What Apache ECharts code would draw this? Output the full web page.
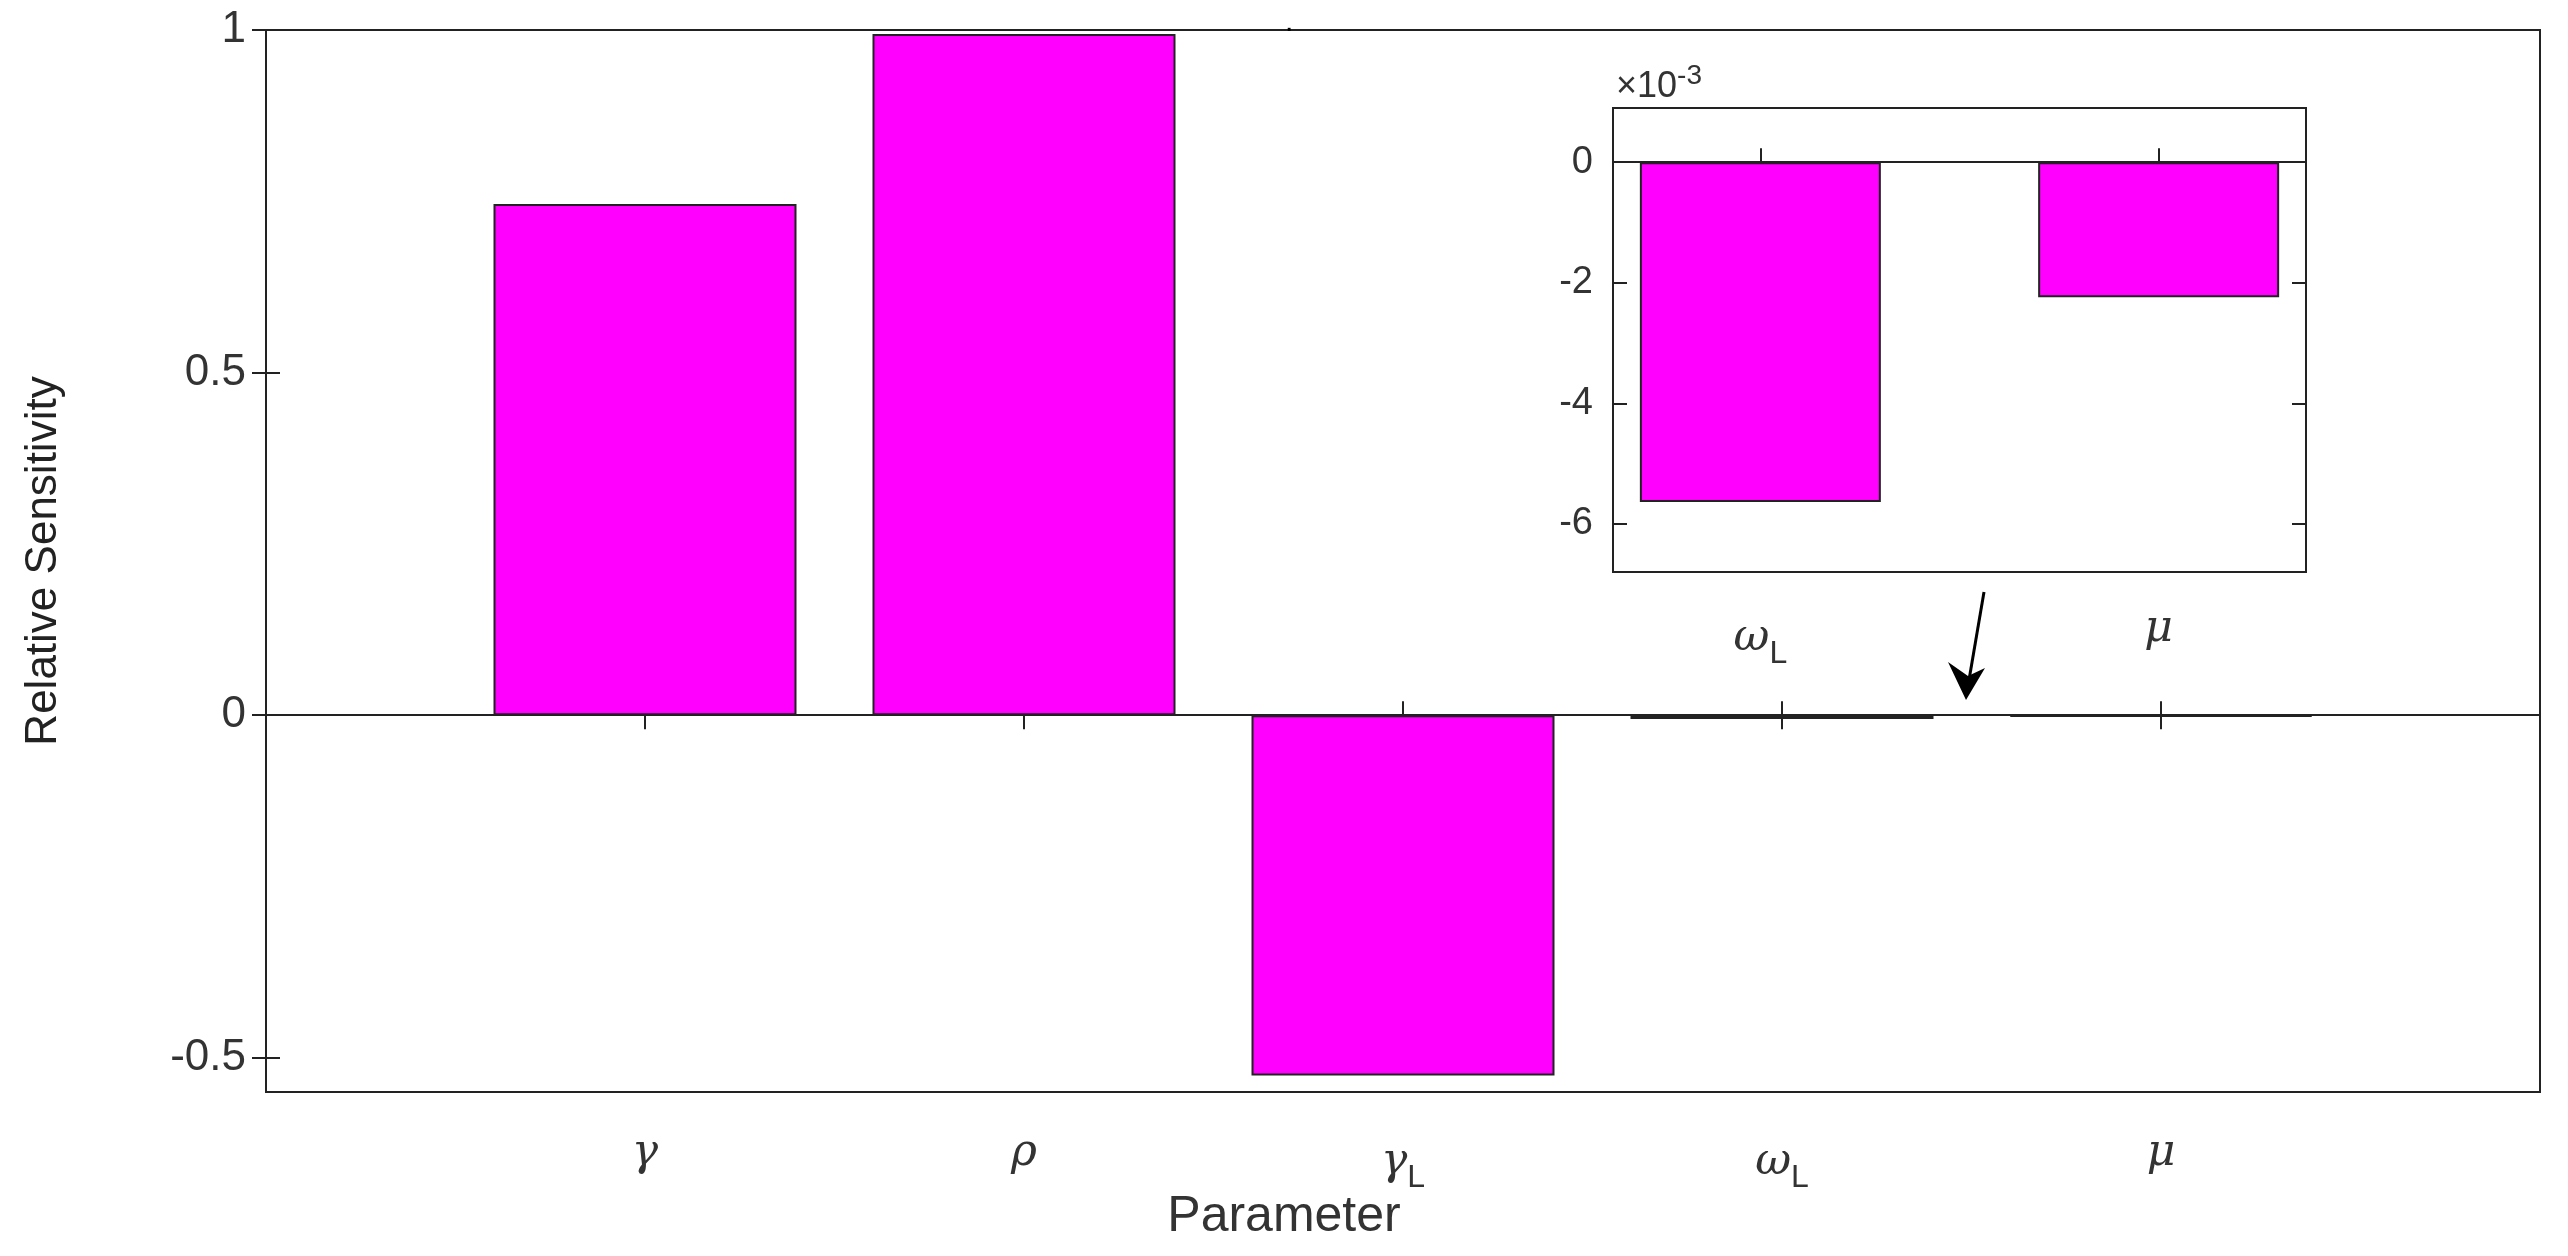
<!DOCTYPE html>
<html>
<head>
<meta charset="utf-8">
<script src="https://cdn.jsdelivr.net/npm/echarts@6/dist/echarts.min.js"></script>
<style>html,body{margin:0;padding:0;background:#fff}#main{width:2568px;height:1256px}</style>
</head>
<body>
<div id="main"></div>
<script>
// main chart data
const params = ['gamma', 'rho', 'gammaL', 'omegaL', 'mu'];
const paramPos = [1, 2, 3, 4, 5];
const sensitivity = [0.746, 0.994, -0.526, -0.0056, -0.0022];
const mainTicks = [-0.5, 0, 0.5, 1];
// inset (x 10^-3)
const insetParams = ['omegaL', 'mu'];
const insetPos = [1, 2];
const insetValues = [-5.64, -2.24];
const insetTicks = [-6, -4, -2, 0];

const FONT = 'Liberation Sans';
const NARROW = '"Liberation Sans Narrow", "Liberation Sans"';
const MAG = '#ff00ff';

const rich = {
    g: {fontFamily: 'DejaVu Serif', fontStyle: 'italic', fontSize: 44, color: '#333'},
    s: {fontFamily: FONT, fontSize: 32, color: '#333', padding: [30, 0, 0, 0]}
};
const sym = {gamma: 'γ', rho: 'ρ', gammaL: 'γ', omegaL: 'ω', mu: 'μ'};
function paramLabel(name) {
    if (name.endsWith('L')) return '{g|' + sym[name] + '}{s|L}';
    return '{g|' + sym[name] + '}';
}

const chart = echarts.init(document.getElementById('main'));
const mainGrid = {left: 266, width: 2274, top: 30, height: 1062, show: true, borderColor: '#222', borderWidth: 2, backgroundColor: 'transparent'};
const insetGrid = {left: 1613, width: 693, top: 108, height: 464, show: true, borderColor: '#222', borderWidth: 2, backgroundColor: '#fff'};

function tickAxis(grid, pos, ticks, extra) {
    return Object.assign({
        gridIndex: grid, type: 'value', position: pos,
        axisLine: {show: false}, splitLine: {show: false},
        axisTick: {show: true, inside: true, length: 14, customValues: ticks, lineStyle: {color: '#222', width: 2}},
        axisLabel: {show: false}
    }, extra);
}

chart.setOption({
    animation: false,
    grid: [mainGrid, insetGrid],
    xAxis: [
        tickAxis(0, 'bottom', paramPos, {min: 0, max: 6, axisLabel: {show: true, customValues: paramPos, margin: 40, rich: rich,
            formatter: v => paramLabel(params[paramPos.indexOf(v)])}}),
        tickAxis(0, 'top', paramPos, {min: 0, max: 6}),
        tickAxis(1, 'bottom', insetPos, {min: 0.63, max: 2.37, axisLabel: {show: true, customValues: insetPos, margin: 36, rich: rich,
            formatter: v => paramLabel(insetParams[insetPos.indexOf(v)])}}),
        tickAxis(1, 'top', insetPos, {min: 0.63, max: 2.37})
    ],
    yAxis: [
        tickAxis(0, 'left', mainTicks, {min: -0.55, max: 1, name: 'Relative Sensitivity', nameLocation: 'middle', nameGap: 200,
            nameTextStyle: {fontFamily: NARROW, fontSize: 44, color: '#222'},
            axisLabel: {show: true, customValues: mainTicks, margin: 20, fontFamily: FONT, fontSize: 44, color: '#333'}}),
        tickAxis(0, 'right', mainTicks, {min: -0.55, max: 1}),
        tickAxis(1, 'left', insetTicks, {min: -6.8, max: 0.9,
            axisLabel: {show: true, customValues: insetTicks, margin: 20, fontFamily: FONT, fontSize: 38, color: '#333'}}),
        tickAxis(1, 'right', insetTicks, {min: -6.8, max: 0.9})
    ],
    graphic: [
        {type: 'text', left: 'center', top: 1192, style: {text: 'Parameter', fontFamily: FONT, fontSize: 50, fill: '#333'}},
        {type: 'text', left: 1616, top: 62, style: {text: '×10{sup|-3}', fontFamily: FONT, fontSize: 36, fill: '#333',
            rich: {sup: {fontFamily: FONT, fontSize: 28, fill: '#333', padding: [0, 0, 22, 0]}}}},
        {type: 'text', left: 1285, top: 8, style: {text: '.', fontFamily: FONT, fontSize: 30, fill: '#000'}},
        {type: 'line', shape: {x1: 1984, y1: 592, x2: 1969, y2: 680}, style: {stroke: '#000', lineWidth: 3}},
        {type: 'polygon', shape: {points: [[1948, 662], [1966, 700], [1985, 668], [1968, 676]]}, style: {fill: '#000'}}
    ],
    series: [
        {type: 'bar', xAxisIndex: 0, yAxisIndex: 0, barWidth: 303,
            data: paramPos.map((p, i) => [p, sensitivity[i]]),
            itemStyle: {color: MAG, borderColor: '#222', borderWidth: 2},
            markLine: {silent: true, symbol: 'none', label: {show: false}, lineStyle: {color: '#222', width: 2, type: 'solid'},
                data: [{yAxis: 0}]}},
        {type: 'bar', xAxisIndex: 2, yAxisIndex: 2, barWidth: 241,
            data: insetPos.map((p, i) => [p, insetValues[i]]),
            itemStyle: {color: MAG, borderColor: '#222', borderWidth: 2},
            markLine: {silent: true, symbol: 'none', label: {show: false}, lineStyle: {color: '#222', width: 2, type: 'solid'},
                data: [{yAxis: 0}]}}
    ]
});
</script>
</body>
</html>
